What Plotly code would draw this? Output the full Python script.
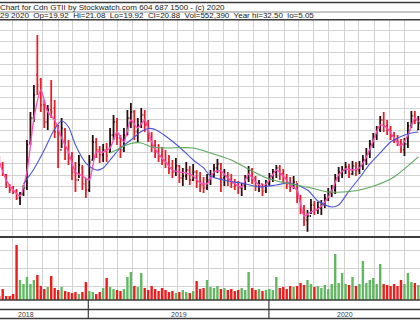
import pandas as pd
import plotly.graph_objects as go

# ---------------- data ----------------
week_dates = pd.date_range("2018-07-05", periods=122, freq="7D")

open_ = [15.78, 14.91, 13.31, 11.71, 11.27, 10.98, 9.96, 10.54, 11.42, 17.97,
         21.60, 27.86, 27.14, 23.50, 21.02, 22.77, 23.06, 19.57, 16.95, 19.86,
         16.95, 15.78, 13.74, 12.58, 14.33, 12.00, 11.12, 15.49, 18.11, 16.95,
         16.22, 16.95, 16.65, 19.13, 21.02, 18.69, 16.95, 19.13, 21.60, 22.48,
         19.57, 20.59, 22.04, 20.59, 18.69, 17.53, 16.65, 16.07, 15.49, 15.05,
         14.33, 13.74, 14.62, 12.87, 13.16, 14.03, 12.58, 13.74, 12.29, 11.85,
         11.42, 12.58, 13.16, 14.33, 14.91, 12.87, 13.16, 12.58, 12.14, 11.71,
         11.42, 11.71, 12.87, 14.03, 12.87, 11.71, 12.00, 10.98, 12.00, 13.16,
         13.74, 14.33, 13.45, 12.87, 12.00, 11.71, 12.29, 9.96, 8.50, 6.76,
         7.34, 8.94, 8.21, 8.50, 8.94, 9.96, 10.83, 11.12, 12.87, 13.74,
         14.03, 14.47, 13.45, 14.62, 14.03, 14.62, 15.49, 16.36, 17.82, 18.84,
         19.86, 21.31, 20.44, 19.86, 18.98, 18.55, 18.11, 16.95, 17.82, 20.44,
         21.90, 19.92]

high = [16.07, 15.20, 13.45, 12.00, 11.71, 11.27, 10.83, 11.85, 18.40, 22.48,
        26.41, 33.69, 27.43, 24.22, 23.50, 27.14, 24.22, 20.59, 21.60, 20.15,
        18.40, 16.65, 15.20, 16.22, 14.76, 12.87, 16.22, 19.13, 18.69, 17.53,
        17.82, 17.97, 20.15, 22.04, 21.60, 19.13, 20.15, 22.77, 23.79, 22.77,
        21.60, 23.06, 22.77, 21.31, 19.57, 18.40, 17.82, 17.38, 16.95, 16.22,
        15.49, 15.78, 14.76, 14.33, 15.20, 14.62, 14.91, 14.03, 13.74, 13.02,
        13.45, 14.03, 14.91, 15.64, 15.05, 14.18, 13.74, 13.45, 12.72, 12.43,
        12.14, 13.31, 14.62, 14.33, 13.16, 12.58, 12.00, 12.58, 13.60, 14.18,
        14.76, 14.76, 14.18, 13.45, 13.02, 13.16, 12.14, 10.40, 8.94, 8.21,
        9.81, 9.52, 9.38, 9.67, 10.54, 11.42, 11.85, 13.45, 14.47, 14.62,
        15.20, 14.91, 15.34, 15.20, 15.34, 16.22, 17.24, 18.40, 19.42, 20.44,
        21.90, 22.48, 21.31, 20.44, 19.57, 19.13, 18.55, 18.69, 21.02, 22.62,
        22.62, 21.90]

low = [14.62, 13.16, 11.42, 10.69, 10.54, 9.67, 8.94, 10.25, 11.12, 17.67,
       21.02, 24.95, 22.48, 20.15, 19.86, 21.60, 18.69, 14.33, 17.24, 15.49,
       14.76, 12.58, 10.83, 12.87, 11.12, 9.96, 10.83, 15.49, 15.78, 15.05,
       15.20, 15.20, 16.65, 18.40, 17.67, 15.78, 16.65, 19.13, 20.15, 18.40,
       18.11, 20.15, 19.57, 18.11, 16.65, 15.78, 15.20, 14.76, 14.33, 13.45,
       12.87, 13.16, 12.14, 11.71, 12.58, 11.85, 12.43, 11.42, 10.83, 10.69,
       11.12, 11.85, 12.87, 13.60, 10.83, 11.71, 11.71, 11.42, 11.12, 10.54,
       10.25, 11.12, 12.29, 12.00, 10.98, 10.83, 10.25, 10.69, 11.71, 12.29,
       12.87, 12.58, 12.14, 11.27, 10.83, 11.27, 9.23, 7.63, 5.88, 5.05,
       7.63, 7.48, 7.63, 7.48, 8.50, 9.52, 10.10, 10.54, 12.29, 12.87,
       13.45, 12.87, 13.31, 13.16, 13.45, 14.03, 14.76, 15.78, 17.24, 18.40,
       19.57, 19.57, 19.13, 18.40, 17.97, 17.53, 16.51, 16.07, 17.24, 20.15,
       20.73, 19.86]

close = [14.91, 13.45, 11.71, 11.12, 10.98, 9.96, 10.54, 11.42, 17.67, 21.60,
         24.95, 26.41, 23.50, 21.02, 22.77, 22.48, 19.57, 16.95, 20.15, 16.65,
         15.78, 13.74, 12.58, 14.76, 12.00, 11.12, 15.20, 18.11, 16.95, 16.22,
         16.95, 16.07, 19.13, 21.02, 18.69, 16.95, 19.13, 21.60, 22.48, 19.57,
         20.59, 22.04, 20.59, 18.69, 17.53, 16.65, 16.07, 15.49, 15.05, 14.33,
         13.74, 14.62, 12.87, 13.16, 14.03, 12.58, 13.74, 12.29, 11.85, 11.42,
         12.58, 13.16, 14.33, 14.91, 12.87, 13.16, 12.58, 12.14, 11.71, 11.42,
         11.71, 12.87, 14.03, 12.87, 11.71, 12.00, 10.98, 12.00, 13.16, 13.74,
         14.33, 13.45, 12.87, 12.00, 11.71, 12.29, 9.96, 8.50, 6.76, 7.34,
         8.94, 8.21, 8.50, 8.94, 9.96, 10.83, 11.12, 12.87, 13.74, 14.03,
         14.47, 13.45, 14.62, 14.03, 14.62, 15.49, 16.36, 17.82, 18.84, 19.86,
         21.31, 20.44, 19.86, 18.98, 18.55, 18.11, 16.95, 17.82, 20.44, 21.90,
         21.31, 20.88]

volume_k = [148, 407, 148, 148, 222, 2035, 740, 592, 851, 592,
            740, 925, 518, 407, 481, 888, 444, 370, 481, 333,
            296, 259, 296, 222, 296, 666, 333, 296, 222, 296,
            444, 814, 481, 407, 370, 333, 407, 851, 1036, 518,
            481, 999, 444, 370, 518, 407, 333, 444, 370, 296,
            333, 259, 296, 370, 296, 259, 333, 703, 407, 444,
            740, 481, 444, 518, 407, 444, 370, 407, 333, 370,
            444, 370, 1036, 444, 370, 407, 333, 370, 407, 370,
            851, 444, 481, 407, 518, 481, 518, 629, 555, 740,
            592, 481, 518, 444, 555, 407, 592, 1702, 629, 999,
            592, 555, 851, 518, 592, 1443, 629, 740, 814, 592,
            1332, 592, 555, 518, 592, 518, 740, 592, 999, 666,
            629, 555]

# short moving average (pink), every second week plus the last week
pink_vals = [15.20, 12.58, 11.12, 10.25, 13.74, 21.60, 25.68, 22.48, 21.31, 18.69,
             16.65, 13.74, 13.16, 12.58, 16.65, 16.65, 17.24, 19.57, 18.11, 21.31,
             20.15, 21.31, 18.11, 16.36, 15.20, 14.03, 13.74, 13.60, 13.16, 12.14,
             12.00, 13.74, 13.89, 12.87, 12.00, 11.56, 13.45, 12.29, 11.56, 12.58,
             14.03, 13.16, 11.85, 11.12, 7.34, 7.92, 8.36, 9.38, 10.98, 13.31,
             14.18, 14.03, 14.33, 15.93, 18.26, 20.59, 20.15, 18.69, 17.53, 19.13,
             21.60, 21.02]

blue_dates = ["2018-08-23", "2018-09-13", "2018-10-04", "2018-10-25", "2018-11-08",
              "2018-11-22", "2018-12-06", "2018-12-27", "2019-01-17", "2019-01-31",
              "2019-02-14", "2019-03-07", "2019-03-28", "2019-04-18", "2019-05-02",
              "2019-05-16", "2019-06-06", "2019-07-04", "2019-08-01", "2019-08-22",
              "2019-09-05", "2019-10-10", "2019-11-07", "2019-12-12", "2020-01-16",
              "2020-02-13", "2020-03-19", "2020-04-09", "2020-05-07", "2020-05-21",
              "2020-06-11", "2020-07-02", "2020-07-23", "2020-08-13", "2020-09-03",
              "2020-09-24", "2020-10-15", "2020-10-29"]
blue_vals = [12.00, 14.18, 16.95, 20.00, 21.17, 20.29, 17.67, 15.05, 14.03, 14.33,
             15.49, 17.24, 18.40, 19.64, 20.08, 19.93, 18.98, 17.38, 15.49, 14.33,
             13.16, 12.43, 12.14, 11.56, 11.85, 12.14, 11.12, 9.52, 8.65, 8.94,
             10.98, 12.87, 14.91, 16.51, 18.11, 18.91, 19.42, 19.57]

green_dates = ["2019-02-14", "2019-03-07", "2019-03-28", "2019-04-18", "2019-05-09",
               "2019-06-06", "2019-08-01", "2019-09-05", "2019-10-17", "2019-11-28",
               "2020-01-02", "2020-02-13", "2020-03-26", "2020-04-30", "2020-05-28",
               "2020-07-02", "2020-08-06", "2020-09-10", "2020-10-15", "2020-10-29"]
green_vals = [16.51, 17.24, 17.89, 17.97, 17.38, 17.24, 17.24, 16.51, 15.49, 13.89,
              12.72, 12.00, 11.42, 10.83, 10.83, 11.12, 11.85, 13.02, 15.05, 15.93]

header_line1 = "Chart for Cdn GTII by Stockwatch.com 604 687 1500 - (c) 2020"
header_line2 = ("29 2020  Op=19.92  Hi=21.08  Lo=19.92  Cl=20.88  "
                "Vol=552,390  Year hi=32.50  lo=5.05")
year_labels = ["2018", "2019", "2020"]
year_starts = ["2019-01-01", "2020-01-01"]

# ---------------- figure ----------------
W, H = 420, 322


def py(p):
    return 1 - p / H


FONT = "Liberation Sans, Arial, sans-serif"
GRID = "#d2d2d2"
DARK = "#3c3c3c"

pink_dates = list(week_dates[0::2]) + [week_dates[-1]]
vol_colors = ["#62b862" if c >= o else "#f01c1c" for o, c in zip(open_, close)]

fig = go.Figure()
fig.add_trace(go.Bar(x=week_dates, y=volume_k, marker_color=vol_colors,
                     marker_line_width=0, xaxis="x2", yaxis="y2"))
fig.add_trace(go.Ohlc(x=week_dates, open=open_, high=high, low=low, close=close,
                      increasing_line_color="#2a0e0e", decreasing_line_color="#e4202a",
                      line_width=1.8, tickwidth=0.35))
fig.add_trace(go.Scatter(x=pink_dates, y=pink_vals, mode="lines",
                         line=dict(color="#ff4fb8", width=1.4, shape="spline", smoothing=0.6)))
fig.add_trace(go.Scatter(x=blue_dates, y=blue_vals, mode="lines",
                         line=dict(color="#4a55d6", width=1.1, shape="spline", smoothing=0.8)))
fig.add_trace(go.Scatter(x=green_dates, y=green_vals, mode="lines",
                         line=dict(color="#5aa85a", width=1.1, shape="spline", smoothing=0.8)))

xr = ["2018-07-06 12:00", "2020-11-01 10:00"]
xcommon = dict(type="date", range=xr, showgrid=True, gridcolor=GRID, gridwidth=1,
               dtick="M1", tick0="2018-08-01", showticklabels=False, zeroline=False,
               showline=False, ticks="")
fig.update_layout(
    width=W, height=H, margin=dict(l=0, r=0, t=0, b=0),
    paper_bgcolor="white", plot_bgcolor="white", showlegend=False, bargap=0.3,
    xaxis=dict(**xcommon, domain=[0, 1], anchor="y", rangeslider=dict(visible=False)),
    xaxis2=dict(**xcommon, domain=[0, 1], anchor="y2", matches="x"),
    yaxis=dict(domain=[py(237), py(19.7)], range=[4.28, 35.91], tick0=34.31, dtick=1.616,
               showgrid=True, gridcolor=GRID, showticklabels=False, zeroline=False, ticks=""),
    yaxis2=dict(domain=[py(300), py(237)], range=[0, 2331], tick0=518, dtick=666,
                showgrid=True, gridcolor=GRID, showticklabels=False, zeroline=False, ticks=""),
)

shapes = []
for p, w, c in [(2.5, 1.5, DARK), (12, 1, "#8a8a8a"), (19.7, 1.5, DARK), (237, 2, DARK),
                (300, 1.5, DARK), (309.5, 1.5, DARK), (318.5, 1.5, DARK)]:
    shapes.append(dict(type="line", xref="paper", yref="paper", x0=0, x1=1,
                       y0=py(p), y1=py(p), line=dict(color=c, width=w)))
for d in year_starts:
    shapes.append(dict(type="line", xref="x", yref="paper", x0=d, x1=d,
                       y0=py(300), y1=py(318.5), line=dict(color=DARK, width=1.2)))
fig.update_layout(shapes=shapes)

ann = [
    dict(text=header_line1, x=-1 / W, y=py(7.5), xanchor="left", yanchor="middle"),
    dict(text=header_line2, x=-1 / W, y=py(16), xanchor="left", yanchor="middle"),
]
for a in ann:
    a.update(xref="paper", yref="paper", showarrow=False, borderpad=0,
             font=dict(family=FONT, size=8, color="#202020"))
for lab, cx in zip(year_labels, [26, 178.5, 344.5]):
    ann.append(dict(text=lab, x=cx / W, y=py(314), xref="paper", yref="paper",
                    xanchor="center", yanchor="middle", showarrow=False, borderpad=0,
                    font=dict(family=FONT, size=7, color="#404040")))
fig.update_layout(annotations=ann)

fig.write_html("out.html", config={"displayModeBar": False})
